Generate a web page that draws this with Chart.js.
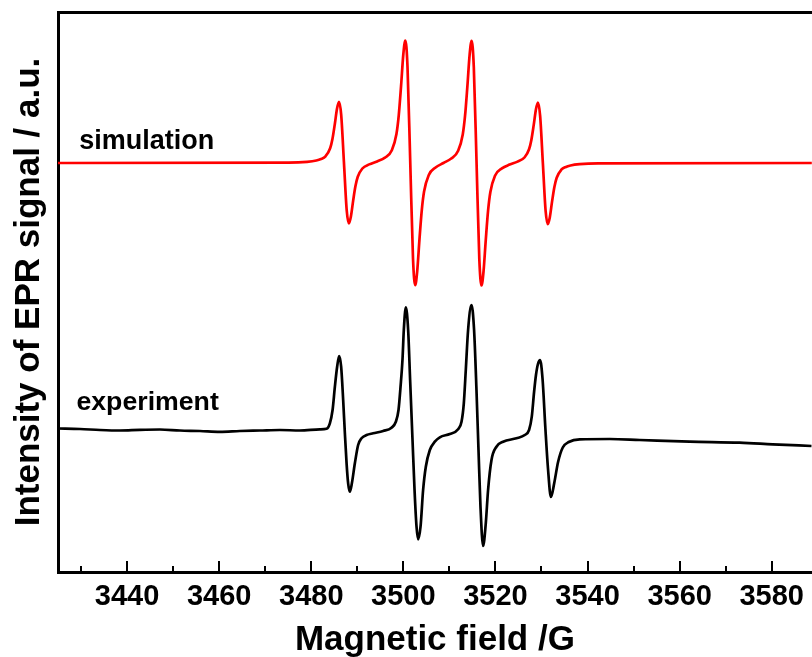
<!DOCTYPE html>
<html>
<head>
<meta charset="utf-8">
<script src="https://cdn.jsdelivr.net/npm/chart.js"></script>
<style>
  html, body { margin: 0; padding: 0; background: #fff; overflow: hidden; }
  canvas { display: block; }
</style>
</head>
<body>
<canvas id="epr" width="812" height="657"></canvas>
<script>
// values (field in G, signal in arbitrary units)

const simField = [3425, 3475.1, 3479.1, 3481.1, 3482.1, 3483.1, 3484.1, 3484.6, 3485.1, 3485.6,
  3486.03, 3486.5, 3487.1, 3487.7, 3488.17, 3488.6, 3489.1, 3489.6, 3490.1, 3491.1,
  3492.6, 3494.3, 3496.0, 3497.5, 3498.5, 3499.0, 3499.5, 3500.0, 3500.43, 3500.9,
  3501.5, 3502.1, 3502.57, 3503.0, 3503.5, 3504.0, 3504.5, 3505.5, 3507.0, 3508.7,
  3510.4, 3511.9, 3512.9, 3513.4, 3513.9, 3514.4, 3514.83, 3515.3, 3515.9, 3516.5,
  3516.97, 3517.4, 3517.9, 3518.4, 3518.9, 3519.9, 3521.4, 3523.1, 3524.8, 3526.3,
  3527.3, 3527.8, 3528.3, 3528.8, 3529.23, 3529.7, 3530.3, 3530.9, 3531.37, 3531.8,
  3532.3, 3532.8, 3533.3, 3534.3, 3535.3, 3536.3, 3538.3, 3542.3, 3589];

const simSignal = [409, 409.4, 410.2, 411.5, 412.9, 415.7, 423.7, 433.0, 447.4, 463.5,
  470.2, 457.2, 409.4, 361.6, 348.5, 355.2, 371.4, 385.9, 395.2, 403.5,
  407.6, 410.6, 414.4, 421.8, 438.1, 456.7, 485.8, 518.0, 531.5, 505.4,
  409.2, 313.0, 286.8, 300.4, 332.6, 361.7, 380.4, 396.8, 404.5, 409.0,
  413.5, 421.2, 437.6, 456.3, 485.4, 517.6, 531.2, 505.0, 408.8, 312.6,
  286.5, 300.0, 332.2, 361.3, 379.9, 396.2, 403.6, 407.4, 410.4, 414.5,
  422.8, 432.1, 446.6, 462.8, 469.5, 456.4, 408.6, 360.8, 347.8, 354.5,
  370.6, 385.0, 394.3, 402.3, 405.1, 406.5, 407.8, 408.6, 409];

const expField = [3425.00, 3429.78, 3434.12, 3438.46, 3442.80, 3447.14, 3451.48, 3455.82, 3460.16, 3464.50,
  3468.85, 3473.19, 3477.53, 3481.87, 3483.32, 3484.04, 3484.63, 3485.13, 3485.62, 3486.06,
  3486.49, 3486.93, 3487.30, 3487.67, 3488.01, 3488.38, 3488.82, 3489.47, 3490.18, 3490.92,
  3492.01, 3493.44, 3495.61, 3497.43, 3498.37, 3498.95, 3499.39, 3499.82, 3500.10, 3500.54,
  3501.04, 3501.47, 3501.99, 3502.43, 3502.86, 3503.21, 3503.73, 3504.29, 3504.88, 3505.75,
  3506.83, 3507.92, 3510.09, 3511.89, 3512.63, 3513.13, 3513.56, 3514.06, 3514.80, 3515.36,
  3515.88, 3516.32, 3516.75, 3517.32, 3517.90, 3518.40, 3519.14, 3520.22, 3521.66, 3524.57,
  3526.37, 3527.30, 3527.89, 3528.39, 3528.80, 3529.23, 3529.69, 3530.23, 3530.84, 3531.40,
  3532.05, 3532.77, 3533.60, 3534.62, 3535.92, 3538.31, 3544.82, 3551.33, 3562.18, 3573.03,
  3580.20, 3588.66];

const expSignal = [143.5, 143, 142, 141.5, 142.2, 142.5, 141.5, 141, 140.2, 141,
  141.5, 142, 141.5, 142.7, 143.3, 148.7, 162, 185.3, 205.3, 216,
  205.3, 172, 138.7, 108.7, 88.7, 80.3, 88.7, 108.7, 127, 133.7,
  137, 138.7, 141, 144.3, 150.3, 162, 185.3, 213, 242, 264.7,
  242, 192, 132, 82, 45.3, 32.7, 45.3, 82, 105.3, 122,
  130.3, 134.7, 138, 142.7, 150.3, 168.7, 202, 242, 267, 242,
  182, 122, 65.3, 26, 48.7, 82, 112, 125.3, 130.3, 133.7,
  137, 142, 155.3, 180, 197, 208, 212, 193, 144, 104,
  75, 89, 110, 124.5, 130, 132.7, 133, 132, 130.3, 129.3,
  127.7, 126];

const majorTicks = [3440, 3460, 3480, 3500, 3520, 3540, 3560, 3580];
const minorTicks = [3430, 3450, 3470, 3490, 3510, 3530, 3550, 3570];

const fieldMin = 3425;
const fieldMax = 3588.7;

const FONT = '"Liberation Sans", Arial, Helvetica, sans-serif';

function toPoints(xs, ys) {
  return xs.map((x, i) => ({ x: x, y: ys[i] }));
}

// ticks point inward (up from the bottom axis), longer for the labelled ones
const inwardTicks = {
  id: 'inwardTicks',
  afterDraw(chart) {
    const ctx = chart.ctx;
    const xs = chart.scales.x;
    const bottom = chart.chartArea.bottom;
    ctx.save();
    ctx.strokeStyle = '#000';
    ctx.lineWidth = 2;
    const draw = (vals, len) => {
      vals.forEach(v => {
        const px = Math.round(xs.getPixelForValue(v));
        if (px < chart.chartArea.left || px > chart.chartArea.right) return;
        ctx.beginPath();
        ctx.moveTo(px, bottom);
        ctx.lineTo(px, bottom - len);
        ctx.stroke();
      });
    };
    draw(majorTicks, 11);
    draw(minorTicks, 6);
    ctx.restore();
  }
};

// the two curve names written inside the plot
const seriesNames = {
  id: 'seriesNames',
  afterDatasetsDraw(chart) {
    const { ctx, scales } = chart;
    ctx.save();
    ctx.fillStyle = '#000';
    ctx.textBaseline = 'alphabetic';
    ctx.textAlign = 'left';
    ctx.font = 'bold 27px ' + FONT;
    ctx.fillText('simulation', scales.x.getPixelForValue(3429.6), scales.y.getPixelForValue(423.5));
    ctx.font = 'bold 26.7px ' + FONT;
    ctx.fillText('experiment', scales.x.getPixelForValue(3429.0), scales.y.getPixelForValue(162));
    ctx.restore();
  }
};

new Chart(document.getElementById('epr'), {
  type: 'line',
  data: {
    datasets: [
      {
        label: 'simulation',
        data: toPoints(simField, simSignal),
        borderColor: '#ff0000',
        borderWidth: 2.7,
        pointRadius: 0,
        cubicInterpolationMode: 'monotone',
        fill: false
      },
      {
        label: 'experiment',
        data: toPoints(expField, expSignal),
        borderColor: '#000000',
        borderWidth: 2.7,
        pointRadius: 0,
        cubicInterpolationMode: 'monotone',
        fill: false
      }
    ]
  },
  options: {
    responsive: false,
    animation: false,
    layout: { padding: 0 },
    plugins: {
      legend: { display: false },
      tooltip: { enabled: false }
    },
    scales: {
      x: {
        type: 'linear',
        position: 'bottom',
        min: fieldMin,
        max: fieldMax,
        afterBuildTicks: axis => { axis.ticks = majorTicks.map(v => ({ value: v })); },
        afterFit: axis => { axis.height = 85; },
        grid: { display: false, drawTicks: false },
        border: { display: true, color: '#000', width: 3 },
        ticks: {
          color: '#000',
          autoSkip: false,
          maxRotation: 0,
          padding: 8,
          font: { family: FONT, size: 29, weight: 'bold' },
          callback: v => String(v)
        },
        title: {
          display: true,
          text: 'Magnetic field /G',
          color: '#000',
          font: { family: FONT, size: 35, weight: 'bold', lineHeight: 1 },
          padding: { top: 0, bottom: -1 }
        }
      },
      xTop: {
        type: 'linear',
        position: 'top',
        min: fieldMin,
        max: fieldMax,
        afterFit: axis => { axis.height = 12; },
        grid: { display: false, drawTicks: false },
        border: { display: true, color: '#000', width: 3 },
        ticks: { display: false }
      },
      y: {
        type: 'linear',
        min: 0,
        max: 560,
        afterFit: axis => { axis.width = 58; },
        grid: { display: false, drawTicks: false },
        border: { display: true, color: '#000', width: 3 },
        ticks: { display: false },
        title: {
          display: true,
          text: 'Intensity of EPR signal / a.u.',
          color: '#000',
          font: { family: FONT, size: 35, weight: 'bold', lineHeight: 1.2 },
          padding: { top: 8, bottom: 0 }
        }
      }
    }
  },
  plugins: [inwardTicks, seriesNames]
});
</script>
</body>
</html>
